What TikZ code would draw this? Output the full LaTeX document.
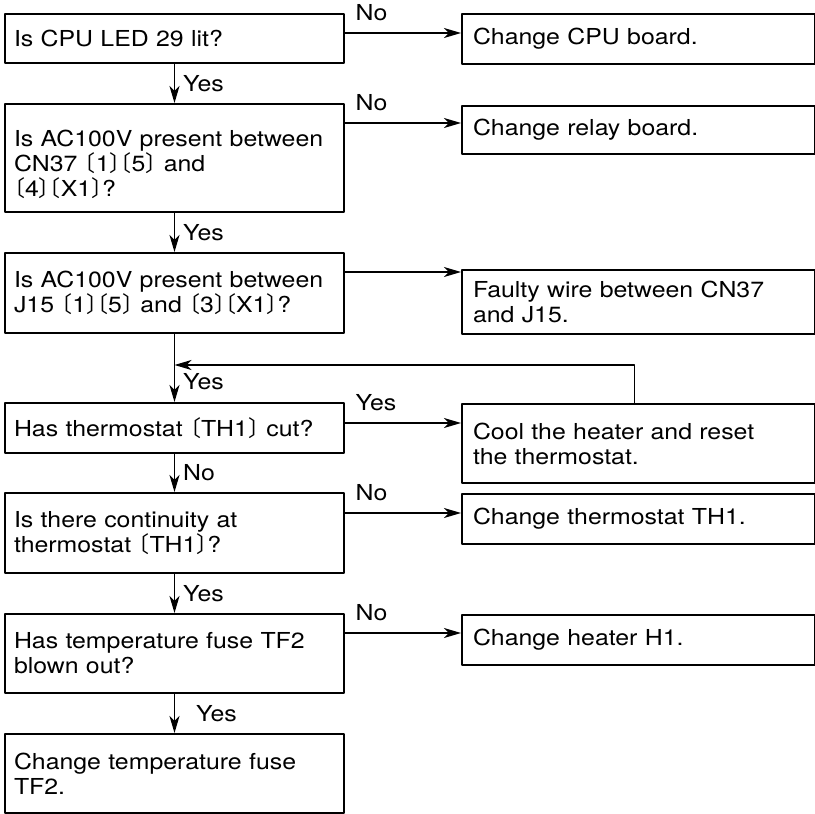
\documentclass[tikz,border=0pt]{standalone}
\usepackage{fontspec}
\setmainfont{TeX Gyre Heros}[FakeStretch=1.13]
\newfontfamily\cjk{Noto Sans CJK JP}
\usetikzlibrary{arrows.meta}
\newcommand{\lbk}{\makebox[0.5em][r]{\cjk 〔}}
\newcommand{\rbk}{\makebox[0.5em][l]{\cjk 〕}}

\begin{document}
\begin{tikzpicture}[line cap=round,line join=round,>={Stealth[length=17pt,width=10pt,inset=5pt]},x=1pt,y=-1pt,
	every node/.style={font=\fontsize{22}{25}\selectfont},
	qbox/.style={draw,line width=2pt,anchor=north west,align=left,inner xsep=9pt,inner ysep=0pt,text width=321pt},
	abox/.style={draw,line width=2pt,anchor=north west,align=left,inner xsep=11pt,inner ysep=0pt,text width=331pt},
	link/.style={->,line width=1.4pt},
	nlab/.style={anchor=south west,inner sep=0pt,xshift=10pt,yshift=11pt},
	ylab/.style={anchor=west,inner sep=0pt,xshift=8pt}]
		\useasboundingbox (0,0) rectangle (815,814);
		% questions
		\node[qbox,minimum height=49pt] (q1) at (4,13) {Is CPU LED 29 lit?};
		\node[qbox,minimum height=108pt,text height=30pt] (q2) at (4,103) {Is AC100V present between\\CN37 \lbk1\rbk\lbk5\rbk{} and\\\lbk4\rbk\lbk X1\rbk?};
		\node[qbox,minimum height=80pt] (q3) at (4,252) {Is AC100V present between\\J15 \lbk1\rbk\lbk5\rbk{} and \lbk3\rbk\lbk X1\rbk?};
		\node[qbox,minimum height=50pt] (q4) at (4,402) {Has thermostat \lbk TH1\rbk{} cut?};
		\node[qbox,minimum height=80pt] (q5) at (4,492) {Is there continuity at\\thermostat \lbk TH1\rbk?};
		\node[qbox,minimum height=79pt] (q6) at (4,613) {Has temperature fuse TF2\\blown out?};
		\node[qbox,minimum height=79pt] (q7) at (4,733) {Change temperature fuse\\TF2.};
		% actions
		\node[abox,minimum height=50pt] (r1) at (461,13) {Change CPU board.};
		\node[abox,minimum height=48pt] (r2) at (461,105) {Change relay board.};
		\node[abox,minimum height=64pt] (r3) at (461,269) {Faulty wire between CN37\\and J15.};
		\node[abox,minimum height=79pt] (r4) at (461,403) {Cool the heater and reset\\the thermostat.};
		\node[abox,minimum height=50pt] (r5) at (461,493) {Change thermostat TH1.};
		\node[abox,minimum height=50pt] (r6) at (461,614) {Change heater H1.};
		% down the left column
		\draw[link] (q1.south) -- node[ylab]{Yes} (q2.north);
		\draw[link] (q2.south) -- node[ylab]{Yes} (q3.north);
		\draw[link] (q3.south) -- node[ylab,pos=0.7]{Yes} (q4.north);
		\draw[link] (q4.south) -- node[ylab]{No} (q5.north);
		\draw[link] (q5.south) -- node[ylab]{Yes} (q6.north);
		\draw[link] (q6.south) -- node[ylab,xshift=13pt]{Yes} (q7.north);
		% across to the right
		\draw[link] ([yshift=-20pt]q1.north east) coordinate (n1) node[nlab]{No} -- (n1 -| r1.west);
		\draw[link] ([yshift=-20pt]q2.north east) coordinate (n2) node[nlab]{No} -- (n2 -| r2.west);
		\draw[link] ([yshift=-20pt]q3.north east) coordinate (n3) -- (n3 -| r3.west);
		\draw[link] ([yshift=-21pt]q4.north east) coordinate (n4) node[nlab]{Yes} -- (n4 -| r4.west);
		\draw[link] ([yshift=-21pt]q5.north east) coordinate (n5) node[nlab]{No} -- (n5 -| r5.west);
		\draw[link] ([yshift=-20pt]q6.north east) coordinate (n6) node[nlab]{No} -- (n6 -| r6.west);
		% back after reset
		\draw[link] ([xshift=-4pt]r4.north) |- ([yshift=-31pt]q3.south);
	\end{tikzpicture}
\end{document}
